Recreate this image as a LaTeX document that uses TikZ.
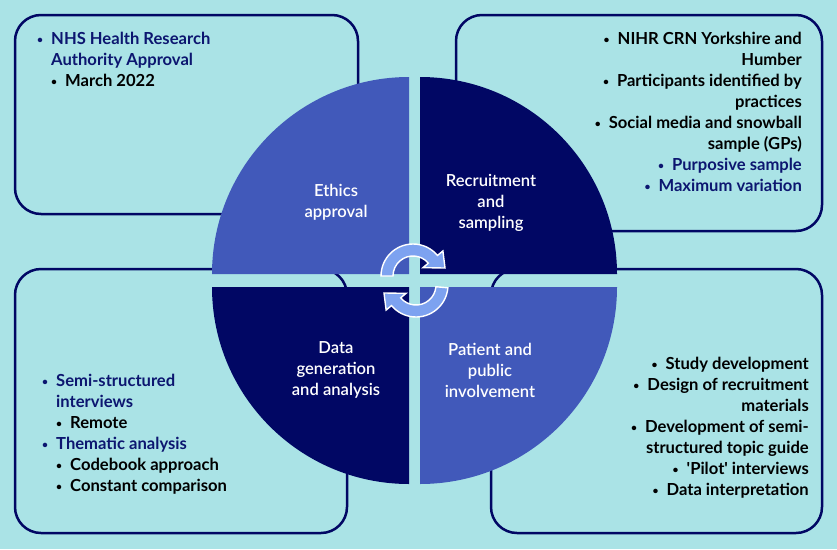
\documentclass[tikz,border=0pt]{standalone}
\usepackage{fontspec}
\setmainfont{Lato}[FontFace={sb}{n}{Lato Semibold}]
\usepackage{graphicx}
\definecolor{bgc}{RGB}{170,227,230}
\definecolor{lightq}{RGB}{65,89,186}
\definecolor{darkq}{RGB}{1,7,100}
\definecolor{navytext}{RGB}{12,22,112}
\definecolor{arrowfill}{RGB}{125,162,240}
\newcommand\bu{\makebox[14pt][l]{\raisebox{1.5pt}{\scalebox{0.62}{•}}}}
\newcommand\ind{\hspace*{14pt}}
\tikzset{
  box/.style={draw=darkq, line width=2.5pt, rounded corners=26pt},
  quadlabel/.style={text=white, align=center, inner sep=0pt, font=\fontsize{16.6}{21}\selectfont\fontseries{sb}\selectfont},
  bullets/.style={inner sep=0pt, font=\fontsize{16.6}{21}\selectfont\bfseries},
  cyclearrow/.style={fill=arrowfill, draw=white, line width=1.4pt, line join=miter}
}
\begin{document}
\begin{tikzpicture}[x=1pt,y=-1pt]
\useasboundingbox (0,0) rectangle (837,549);
\fill[bgc] (0,0) rectangle (837,549);
% boxes
\draw[box] (15,15) rectangle (358,214);
\draw[box] (456,15) rectangle (822,231);
\draw[box] (15,269) rectangle (347,533);
\draw[box] (491,269) rectangle (822,533);
% quadrants
\fill[lightq] (409,274) -- (212,274) arc[start angle=180, end angle=270, radius=197] -- cycle;
\fill[darkq] (420,274) -- (420,77) arc[start angle=270, end angle=360, radius=197] -- cycle;
\fill[lightq] (420,287) -- (617,287) arc[start angle=0, end angle=90, radius=197] -- cycle;
\fill[darkq] (409,287) -- (409,484) arc[start angle=90, end angle=180, radius=197] -- cycle;
% quadrant labels
\node[quadlabel] (ethics) at (336,202) {Ethics\\approval};
\node[quadlabel] (recruit) at (491,203) {Recruitment\\and\\sampling};
\node[quadlabel] (data) at (336,370) {Data\\generation\\and analysis};
\node[quadlabel] (ppi) at (490,370) {Patient and\\public\\involvement};
% text blocks
\node[bullets, anchor=north west, align=left] (tltext) at (37,32)
  {\color{navytext}\bu NHS Health Research\\
   \color{navytext}\ind Authority Approval\\
   \color{black}\ind\bu March 2022};
\node[bullets, anchor=north east, align=right] (trtext) at (802,32)
  {\bu NIHR CRN Yorkshire and\\
   Humber\\
   \bu Participants identified by\\
   practices\\
   \bu Social media and snowball\\
   sample (GPs)\\
   \color{navytext}\bu Purposive sample\\
   \color{navytext}\bu Maximum variation};
\node[bullets, anchor=north west, align=left] (bltext) at (42,374)
  {\color{navytext}\bu Semi-structured\\
   \color{navytext}\ind interviews\\
   \color{black}\ind\bu Remote\\
   \color{navytext}\bu Thematic analysis\\
   \color{black}\ind\bu Codebook approach\\
   \color{black}\ind\bu Constant comparison};
\node[bullets, anchor=north east, align=right] (brtext) at (809,357)
  {\bu Study development\\
   \bu Design of recruitment\\
   materials\\
   \bu Development of semi-\\
   structured topic guide\\
   \bu \textquotesingle Pilot\textquotesingle\ interviews\\
   \bu Data interpretation};
% cycle arrows
\begin{scope}[shift={(413,276)}]
\filldraw[cyclearrow] (180:32) arc[start angle=180, end angle=320, radius=32]
  -- (320:39) -- (346:33) -- (320:13) -- (320:20)
  arc[start angle=320, end angle=180, radius=20] -- cycle;
\end{scope}
\begin{scope}[shift={(416,285)}]
\filldraw[cyclearrow] (5:32) arc[start angle=5, end angle=140, radius=32]
  -- (140:39) -- (166:33) -- (140:13) -- (140:20)
  arc[start angle=140, end angle=5, radius=20] -- cycle;
\end{scope}
\end{tikzpicture}
\end{document}
